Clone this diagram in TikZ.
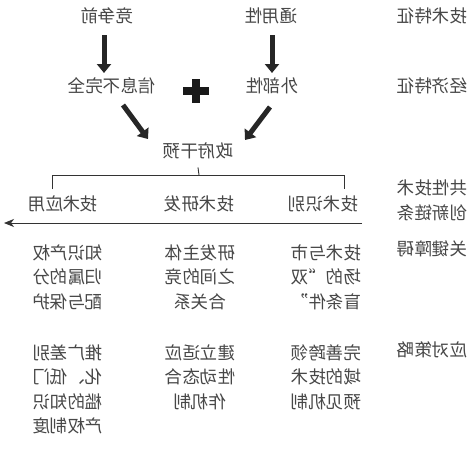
\documentclass[tikz,border=0pt]{standalone}
\usepackage{fontspec}
\usepackage{graphicx}
\newfontfamily\cjk{Noto Sans CJK SC}
\usetikzlibrary{arrows.meta}
\newcommand{\mtext}[1]{\reflectbox{\begin{tabular}{@{}c@{}}#1\end{tabular}}}
\tikzset{
  lbl/.style={font=\cjk\fontsize{17.5}{24.5}\selectfont, text=black!72, inner sep=2pt},
  bigarrow/.style={line width=5pt, draw=black!85, -{Triangle[width=14pt,length=9pt]}},
  thinline/.style={line width=0.9pt, draw=black!80},
  longarrow/.style={line width=0.9pt, draw=black!80, -{Stealth[length=10pt,width=8pt,inset=3pt]}}
}
\begin{document}
\begin{tikzpicture}[x=1pt,y=-1pt]
\useasboundingbox (0,0) rectangle (474,450);
\fill[white] (0,0) rectangle (474,450);
% top row
\node[lbl] (comp) at (107,18) {\mtext{竞争前}};
\node[lbl] (gen) at (271,18) {\mtext{通用性}};
\node[lbl] (tech) at (432,18) {\mtext{技术特征}};
\node[lbl] (info) at (112,88) {\mtext{信息不完全}};
\node[lbl] (ext) at (272,88) {\mtext{外部性}};
\node[lbl] (econ) at (432,88) {\mtext{经济特征}};
% plus sign
\node[minimum size=26pt, inner sep=0pt] (plus) at (196,91) {};
\fill[black!90] (183,87) rectangle (209,95);
\fill[black!90] (192,79) rectangle (200,103);
% government
\node[lbl] (gov) at (198,153) {\mtext{政府干预}};
% arrows
\coordinate (a1s) at (104,35);
\coordinate (a1e) at (104,73);
\coordinate (a2s) at (272,35);
\coordinate (a2e) at (272,73);
\draw[bigarrow] (a1s) -- (a1e);
\draw[bigarrow] (a2s) -- (a2e);
\coordinate (d1s) at (123,105);
\coordinate (d1e) at (148,139);
\coordinate (d2s) at (270,107);
\coordinate (d2e) at (245,140);
\draw[bigarrow] (d1s) -- (d1e);
\draw[bigarrow] (d2s) -- (d2e);
% tree
\coordinate (stem) at (199,175);
\coordinate (barL) at (52,175);
\coordinate (barR) at (344,175);
\coordinate (dropL) at (52,189);
\coordinate (dropR) at (344,189);
\draw[thinline] (gov.south) -- (stem);
\draw[thinline] (dropL) -- (barL) -- (barR) -- (dropR);
% stage labels
\node[lbl] (app) at (63,206) {\mtext{技术应用}};
\node[lbl] (rd) at (199,206) {\mtext{技术研发}};
\node[lbl] (ident) at (323,206) {\mtext{技术识别}};
\node[lbl] (chain) at (432,202) {\mtext{共性技术\\创新链条}};
% long arrow
\coordinate (lr) at (362,223);
\coordinate (ll) at (4,223);
\draw[longarrow] (lr) -- (ll);
% barriers
\node[lbl] (barrier) at (432,251) {\mtext{关键障碍}};
\node[lbl,anchor=north] (b1) at (68,240) {\mtext{知识产权\\归属的分\\配与保护}};
\node[lbl,anchor=north] (b2) at (200,240) {\mtext{研发主体\\之间的竞\\合关系}};
\node[lbl,anchor=north] (b3) at (326,240) {\mtext{技术与市\\场的“双\\盲条件”}};
% strategies
\node[lbl] (strat) at (432,352) {\mtext{应对策略}};
\node[lbl,anchor=north] (s1) at (68,340) {\mtext{推广差别\\化、低门\\槛的知识\\产权制度}};
\node[lbl,anchor=north] (s2) at (200,340) {\mtext{建立适应\\性动态合\\作机制}};
\node[lbl,anchor=north] (s3) at (326,340) {\mtext{完善跨领\\域的技术\\预见机制}};
\end{tikzpicture}
\end{document}
